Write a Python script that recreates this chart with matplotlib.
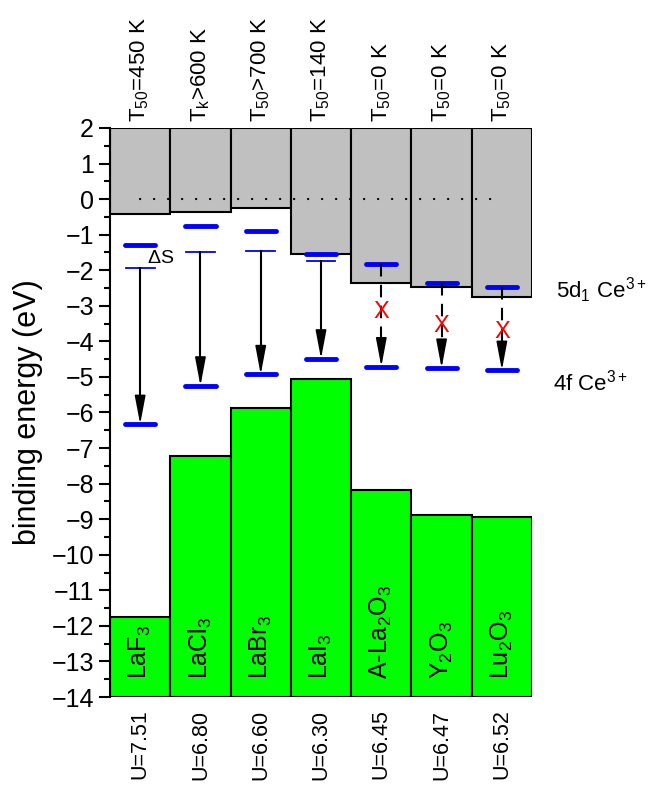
import numpy as np
import matplotlib
matplotlib.use('Agg')
import matplotlib.pyplot as plt

plt.rcParams['font.family'] = ['Liberation Sans', 'DejaVu Sans']
plt.rcParams['mathtext.fontset'] = 'custom'
plt.rcParams['mathtext.rm'] = 'Liberation Sans'
plt.rcParams['mathtext.it'] = 'Liberation Sans'
plt.rcParams['mathtext.bf'] = 'Liberation Sans:bold'

# data (eV)
compounds = [r'LaF$_3$', r'LaCl$_3$', r'LaBr$_3$', r'LaI$_3$',
             r'A-La$_2$O$_3$', r'Y$_2$O$_3$', r'Lu$_2$O$_3$']
cb_bottom = [-0.43, -0.35, -0.24, -1.55, -2.35, -2.46, -2.76]
vb_top = [-11.75, -7.22, -5.87, -5.06, -8.18, -8.88, -8.94]
e_5d = [-1.30, -0.77, -0.91, -1.55, -1.83, -2.36, -2.47]
e_5d_thin = [-1.95, -1.48, -1.46, -1.74, None, None, None]
e_4f = [-6.33, -5.25, -4.93, -4.49, -4.71, -4.75, -4.81]
x_marks = [None, None, None, None, -3.17, -3.56, -3.73]
top_labels = [r'T$_{50}$=450 K', r'T$_\mathrm{k}$>600 K', r'T$_{50}$>700 K',
              r'T$_{50}$=140 K', r'T$_{50}$=0 K', r'T$_{50}$=0 K', r'T$_{50}$=0 K']
u_values = ['7.51', '6.80', '6.60', '6.30', '6.45', '6.47', '6.52']

fig = plt.figure(figsize=(6.56, 7.9), dpi=100)
ax = fig.add_axes([0.1677, 0.1177, 0.6433, 0.7203])

x = np.arange(len(compounds)) + 0.5
ymin, ymax = -14, 2

ax.bar(x, [ymax - c for c in cb_bottom], bottom=cb_bottom, width=1,
       color='#c0c0c0', edgecolor='black', linewidth=1.5, zorder=2)
ax.bar(x, [v - ymin for v in vb_top], bottom=ymin, width=1,
       color='#00ff00', edgecolor='black', linewidth=1.5, zorder=2)

ax.plot([0.5, 6.35], [0, 0], color='black', lw=1.6,
        linestyle=(0, (0.1, 6.2)), dash_capstyle='round', zorder=3)

for i, xc in enumerate(x):
    ax.plot([xc - 0.25, xc + 0.25], [e_5d[i]] * 2, color='#0000ff', lw=3.5,
            solid_capstyle='round', zorder=4)
    ax.plot([xc - 0.25, xc + 0.25], [e_4f[i]] * 2, color='#0000ff', lw=3.5,
            solid_capstyle='round', zorder=4)
    if e_5d_thin[i] is not None:
        ax.plot([xc - 0.24, xc + 0.24], [e_5d_thin[i]] * 2, color='#0000ff',
                lw=1.3, zorder=4)
        start = e_5d_thin[i]
        ls = '-'
    else:
        start = e_5d[i]
        ls = (0, (6, 4))
    head = 0.68
    ax.plot([xc, xc], [start, e_4f[i] + head * 0.9], color='black', lw=1.5,
            linestyle=ls, zorder=5)
    ax.annotate('', xy=(xc, e_4f[i]), xytext=(xc, e_4f[i] + head),
                arrowprops=dict(arrowstyle='-|>,head_length=1.75,head_width=0.33',
                                color='black', lw=1.2, shrinkA=0, shrinkB=0),
                zorder=6)
    if x_marks[i] is not None:
        ax.text(xc, x_marks[i], 'X', color='red', fontsize=17,
                ha='center', va='center', zorder=7)

    ax.text(xc, -13.5, compounds[i], rotation=90, ha='center', va='bottom',
            fontsize=18, zorder=7)
    ax.annotate(top_labels[i], xy=(xc, ymax), xytext=(0, 4),
                textcoords='offset points', rotation=90, ha='center',
                va='bottom', fontsize=16, annotation_clip=False)
    ax.annotate('U=' + u_values[i], xy=(xc, ymin), xytext=(0, -9),
                textcoords='offset points', rotation=90, ha='center',
                va='top', fontsize=15.5, annotation_clip=False)

ax.text(0.62, -1.66, r'$\Delta$S', fontsize=14, ha='left', va='center', zorder=7)
ax.text(7.4, -2.56, r'5d$_1$ Ce$^{3+}$', fontsize=16, ha='left', va='center',
        clip_on=False)
ax.text(7.35, -5.17, r'4f Ce$^{3+}$', fontsize=16, ha='left', va='center',
        clip_on=False)

ax.set_xlim(0, 7)
ax.set_ylim(ymin, ymax)
for s in ['top', 'right', 'bottom']:
    ax.spines[s].set_visible(False)
ax.spines['left'].set_linewidth(1.5)
ax.set_xticks([])
ax.set_yticks(np.arange(ymin, ymax + 1, 1))
ax.set_yticks(np.arange(ymin, ymax, 0.5), minor=True)
ax.tick_params(axis='y', which='major', length=8, width=1.5, labelsize=18)
ax.tick_params(axis='y', which='minor', length=4, width=1.5)
ax.set_ylabel('binding energy (eV)', fontsize=22, labelpad=6)

plt.savefig('out.png', dpi=100)
